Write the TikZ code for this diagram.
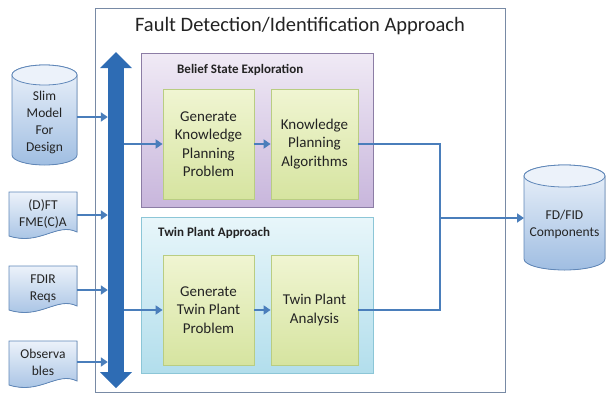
\documentclass[tikz,border=0pt]{standalone}
\usepackage{fontspec}
\setmainfont{Carlito}
\usetikzlibrary{arrows.meta,calc,backgrounds}
\definecolor{conn}{RGB}{74,126,187}
\definecolor{busc}{RGB}{46,108,180}
\definecolor{frameC}{RGB}{120,138,165}
\definecolor{txt}{RGB}{35,35,35}
\definecolor{purT}{RGB}{240,234,245}
\definecolor{purB}{RGB}{200,182,220}
\definecolor{purD}{RGB}{140,125,165}
\definecolor{cyaT}{RGB}{232,246,250}
\definecolor{cyaB}{RGB}{178,222,236}
\definecolor{cyaD}{RGB}{140,198,215}
\definecolor{grnT}{RGB}{240,245,210}
\definecolor{grnB}{RGB}{214,228,160}
\definecolor{grnD}{RGB}{185,205,130}
\definecolor{docT}{RGB}{236,242,250}
\definecolor{docB}{RGB}{160,190,226}
\definecolor{docD}{RGB}{95,135,185}
\begin{document}
\begin{tikzpicture}[x=1pt,y=-1pt,
  frm/.style={draw=frameC,line width=1pt},
  grpP/.style={draw=purD,line width=0.8pt,top color=purT,bottom color=purB},
  grpC/.style={draw=cyaD,line width=0.8pt,top color=cyaT,bottom color=cyaB},
  grplabel/.style={font=\fontsize{13}{15}\selectfont\bfseries,text=txt,anchor=west,inner sep=0},
  task/.style={draw=grnD,line width=0.8pt,top color=grnT,bottom color=grnB,
    align=center,text=txt,font=\fontsize{15}{18.5}\selectfont,inner sep=0},
  doctext/.style={align=center,text=txt,font=\fontsize{13.5}{17}\selectfont,inner sep=0},
  docshape/.style={draw=docD,line width=0.8pt,top color=docT,bottom color=docB},
  conline/.style={draw=conn,line width=2.5pt},
  arr/.style={conline,-{Triangle[length=7pt,width=9pt]}},
]
\useasboundingbox (0,0) rectangle (608,394);
% outer frame
\draw[frm] (95,8) rectangle (505,392);
\node[font=\fontsize{20.5}{23}\selectfont,text=txt] (title) at (300,26) {Fault Detection/Identification Approach};
% group boxes
\node[grpP,minimum width=232,minimum height=154,inner sep=0] (bse) at (257,130) {};
\node[grplabel] (bsel) at (177,70) {Belief State Exploration};
\node[grpC,minimum width=232,minimum height=156,inner sep=0] (tpa) at (257,295) {};
\node[grplabel] (tpal) at (158,233) {Twin Plant Approach};
% task boxes
\node[task,minimum width=91,minimum height=110] (g1) at (208.5,144) {Generate\\Knowledge\\Planning\\Problem};
\node[task,minimum width=87,minimum height=110] (g2) at (314.5,144) {Knowledge\\Planning\\Algorithms};
\node[task,minimum width=91,minimum height=110] (g3) at (208.5,310) {Generate\\Twin Plant\\Problem};
\node[task,minimum width=87,minimum height=110] (g4) at (314.5,310) {Twin Plant\\Analysis};
% bus double arrow
\node[fill=busc,minimum width=16,minimum height=304,inner sep=0] (bus) at (116,220) {};
\fill[busc] (100,68) -- (116,52) -- (132,68) -- cycle;
\fill[busc] (100,372) -- (116,388) -- (132,372) -- cycle;
% left cylinder
\fill[docshape] (12,75) -- (12,155) arc[start angle=180,end angle=0,x radius=32.5,y radius=10] -- (77,75) arc[start angle=0,end angle=-180,x radius=32.5,y radius=10] -- cycle;
\draw[draw=docD,line width=0.8pt,fill=docT] (44.5,75) ellipse[x radius=32.5,y radius=10];
\node[doctext] (slim) at (44.5,122) {Slim\\Model\\For\\Design};
% right cylinder
\fill[docshape] (524,176) -- (524,259) arc[start angle=180,end angle=0,x radius=40.5,y radius=11] -- (605,176) arc[start angle=0,end angle=-180,x radius=40.5,y radius=11] -- cycle;
\draw[draw=docD,line width=0.8pt,fill=docT] (564.5,176) ellipse[x radius=40.5,y radius=11];
\node[doctext] (fdc) at (564.5,224) {FD/FID\\Components};
% documents
\fill[docshape] (9,192) -- (77,192) -- (77,232) .. controls (57,222) and (40,246) .. (9,236) -- cycle;
\node[doctext] (d1) at (43,213.5) {(D)FT\\FME(C)A};
\fill[docshape] (9,266) -- (77,266) -- (77,306) .. controls (57,296) and (40,320) .. (9,310) -- cycle;
\node[doctext] (d2) at (43,289) {FDIR\\Reqs};
\fill[docshape] (9,341) -- (77,341) -- (77,381) .. controls (57,371) and (40,395) .. (9,385) -- cycle;
\node[doctext] (d3) at (43,362) {Observa\\bles};
% connectors
\coordinate (s0) at (77,117);
\draw[arr] (s0) -- (s0 -| bus.west);
\coordinate (s1) at (77,215);
\draw[arr] (s1) -- (s1 -| bus.west);
\coordinate (s2) at (77,290);
\draw[arr] (s2) -- (s2 -| bus.west);
\coordinate (s3) at (77,362);
\draw[arr] (s3) -- (s3 -| bus.west);
\draw[arr] (bus.east |- g1.west) -- (g1.west);
\draw[arr] (g1.east) -- (g2.west);
\draw[arr] (bus.east |- g3.west) -- (g3.west);
\draw[arr] (g3.east) -- (g4.west);
\coordinate (jx) at (440,218);
\draw[conline] (g2.east) -| (jx) |- (g4.east);
\draw[arr] (jx) -- (jx -| 524,0);
\end{tikzpicture}
\end{document}
